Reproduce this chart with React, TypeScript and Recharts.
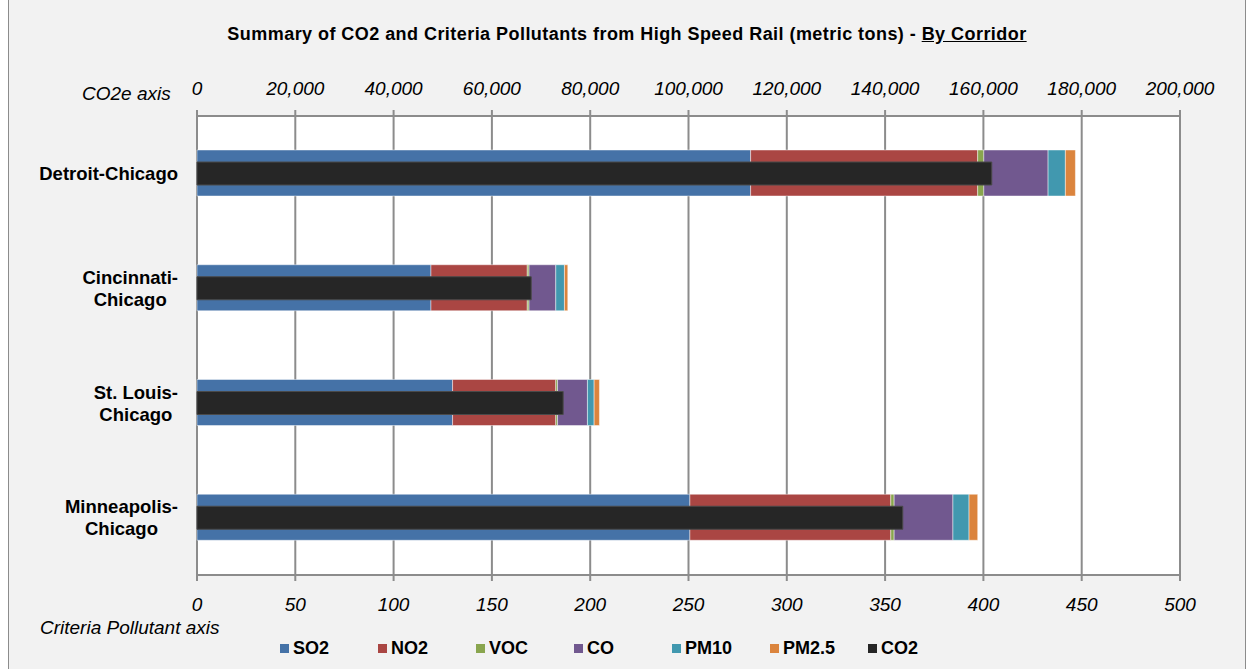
import React from "react"
import { BarChart, Bar, XAxis, YAxis, CartesianGrid, Legend } from "recharts"

// corridors, top to bottom
const corridors = ["Detroit-Chicago", "Cincinnati-Chicago", "St. Louis-Chicago", "Minneapolis-Chicago"]
const corridorLines = [["Detroit-Chicago"], ["Cincinnati-", "Chicago"], ["St. Louis-", "Chicago"], ["Minneapolis-", "Chicago"]]

// criteria pollutants (metric tons), stacked on the bottom axis
const so2 = [281.6, 119.0, 130.0, 250.7]
const no2 = [115.5, 49.0, 52.5, 102.2]
const voc = [3.1, 0.9, 0.9, 1.7]
const co = [32.7, 13.6, 15.2, 29.9]
const pm10 = [8.8, 4.4, 3.4, 8.2]
const pm25 = [5.1, 1.7, 2.7, 4.4]

// CO2 (metric tons), on the top axis
const co2 = [161700, 68000, 74500, 143600]

const criteriaTicks = [0, 50, 100, 150, 200, 250, 300, 350, 400, 450, 500]
const co2Ticks = [0, 20000, 40000, 60000, 80000, 100000, 120000, 140000, 160000, 180000, 200000]
const boundaryTicks = [0, 1, 2, 3, 4]

const stacked = [
  { key: "so2", name: "SO2", color: "#4572A7" },
  { key: "no2", name: "NO2", color: "#AA4643" },
  { key: "voc", name: "VOC", color: "#89A54E" },
  { key: "co", name: "CO", color: "#71588F" },
  { key: "pm10", name: "PM10", color: "#4198AF" },
  { key: "pm25", name: "PM2.5", color: "#DB843D" },
]
const co2Series = { key: "co2", name: "CO2", color: "#262626" }
const legendOrder = [...stacked, co2Series]

const data = corridors.map((corridor, i) => ({
  corridor,
  so2: so2[i],
  no2: no2[i],
  voc: voc[i],
  co: co[i],
  pm10: pm10[i],
  pm25: pm25[i],
  co2: co2[i],
}))

const FONT = "'Liberation Sans', Arial, sans-serif"
const axisGray = "#8c8c8c"
const LABEL_SIZE = 18.5
const labelFont = `bold ${LABEL_SIZE}px ${FONT}`

let ctx: CanvasRenderingContext2D | null = null
function measure(text: string) {
  if (!ctx) ctx = document.createElement("canvas").getContext("2d")
  if (!ctx) return text.length * 10
  ctx.font = labelFont
  return ctx.measureText(text).width
}

// category labels: each line centred in its block, block right-aligned
function CorridorTick(props: any) {
  const { x, y, payload } = props
  const lines = corridorLines[corridors.indexOf(payload.value)] || [payload.value]
  const widest = Math.max(...lines.map(measure))
  const cx = x - widest / 2
  const lh = 22
  const startY = y - ((lines.length - 1) * lh) / 2
  return (
    <text textAnchor="middle" fontFamily={FONT} fontSize={LABEL_SIZE} fontWeight="bold" fill="#000">
      {lines.map((l, i) => (
        <tspan key={i} x={cx} y={startY + i * lh} dy="0.36em">
          {l}
        </tspan>
      ))}
    </text>
  )
}

function PollutantLegend() {
  return (
    <div style={{ position: "relative", height: 24 }}>
      {legendOrder.map((s, i) => (
        <div
          key={s.key}
          style={{ position: "absolute", left: 271 + i * 98, top: 0, display: "flex", alignItems: "center", height: 24 }}
        >
          <span style={{ display: "inline-block", width: 9, height: 9, background: s.color, marginRight: 4 }} />
          <span style={{ font: `bold 18px ${FONT}`, color: "#000" }}>{s.name}</span>
        </div>
      ))}
    </div>
  )
}

const tickStyle = { fill: "#000", fontSize: 19, fontStyle: "italic", fontFamily: FONT }

export default function App() {
  return (
    <div
      style={{
        position: "absolute",
        left: 8,
        top: 0,
        width: 1236,
        height: 669,
        background: "#f2f2f2",
        borderLeft: `1px solid ${axisGray}`,
        borderRight: `1px solid ${axisGray}`,
        fontFamily: FONT,
      }}
    >
      <div
        style={{
          position: "absolute",
          left: 0,
          width: 1236,
          top: 24,
          textAlign: "center",
          font: `bold 18px ${FONT}`,
          letterSpacing: 0.45,
          lineHeight: "20px",
          color: "#000",
        }}
      >
        Summary of CO2 and Criteria Pollutants from High Speed Rail (metric tons) - <u>By Corridor</u>
      </div>
      <div style={{ position: "absolute", left: 73, top: 84, font: `italic 19px ${FONT}`, lineHeight: "20px" }}>
        CO2e axis
      </div>
      <div style={{ position: "absolute", left: 31, top: 618, font: `italic 19px ${FONT}`, lineHeight: "20px" }}>
        Criteria Pollutant axis
      </div>
      <BarChart
        width={1236}
        height={669}
        data={data}
        layout="vertical"
        margin={{ top: 76, right: 65, bottom: 64, left: 0 }}
        style={{ position: "absolute", left: 0, top: 0 }}
      >
        <CartesianGrid
          xAxisId="crit"
          yAxisId="cat"
          horizontal={false}
          stroke={axisGray}
          strokeWidth={2}
          fill="#ffffff"
          fillOpacity={1}
        />
        <XAxis
          xAxisId="crit"
          type="number"
          orientation="bottom"
          domain={[0, 500]}
          ticks={criteriaTicks}
          height={30}
          tickSize={6}
          tickMargin={17}
          tick={tickStyle}
          axisLine={{ stroke: axisGray, strokeWidth: 2 }}
          tickLine={{ stroke: axisGray, strokeWidth: 2 }}
        />
        <XAxis
          xAxisId="co2"
          type="number"
          orientation="top"
          domain={[0, 200000]}
          ticks={co2Ticks}
          height={40}
          tickSize={6}
          tickMargin={15}
          tick={tickStyle}
          tickFormatter={(v: number) => v.toLocaleString("en-US")}
          axisLine={{ stroke: axisGray, strokeWidth: 2 }}
          tickLine={{ stroke: axisGray, strokeWidth: 2 }}
        />
        <YAxis
          yAxisId="frame"
          type="number"
          domain={[0, 4]}
          ticks={boundaryTicks}
          width={1}
          tick={false}
          tickSize={7}
          axisLine={{ stroke: axisGray, strokeWidth: 2 }}
          tickLine={{ stroke: axisGray, strokeWidth: 2 }}
        />
        <YAxis
          yAxisId="cat"
          type="category"
          dataKey="corridor"
          width={187}
          axisLine={false}
          tickLine={false}
          tickMargin={13}
          tick={<CorridorTick />}
        />
        <YAxis yAxisId="co2cat" type="category" dataKey="corridor" hide />
        <Legend
          layout="horizontal"
          verticalAlign="middle"
          align="center"
          content={<PollutantLegend />}
          wrapperStyle={{ left: 0, top: 636, width: 1236, height: 24 }}
        />
        {stacked.map((s) => (
          <Bar
            key={s.key}
            xAxisId="crit"
            yAxisId="cat"
            stackId="criteria"
            dataKey={s.key}
            name={s.name}
            fill={s.color}
            stroke="#ffffff"
            strokeOpacity={0.45}
            strokeWidth={1}
            barSize={46}
            isAnimationActive={false}
          />
        ))}
        <Bar
          xAxisId="co2"
          yAxisId="co2cat"
          dataKey={co2Series.key}
          name={co2Series.name}
          fill={co2Series.color}
          stroke="#4a4a4a"
          strokeWidth={1}
          barSize={23}
          isAnimationActive={false}
        />
      </BarChart>
    </div>
  )
}
